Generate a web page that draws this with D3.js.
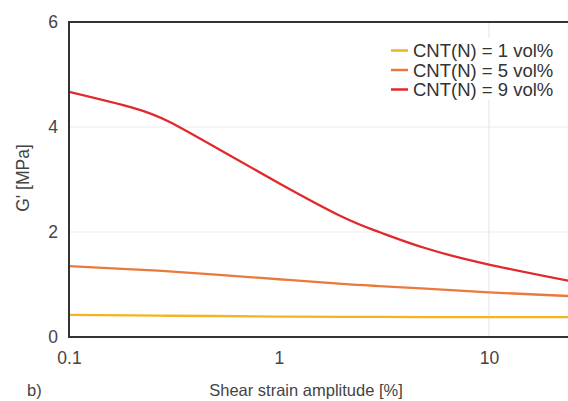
<!DOCTYPE html>
<html>
<head>
<meta charset="utf-8">
<script src="https://cdn.jsdelivr.net/npm/d3@7"></script>
<style>
    body { margin: 0; background: #fff; }
    text { font-family: "Liberation Sans", Arial, sans-serif; }
</style>
</head>
<body>
<div id="chart"></div>
<script>
// 数据
var strain = [0.1, 0.2, 0.3, 0.5, 1, 2, 3, 5, 10, 24];
var g1 = [0.42, 0.41, 0.405, 0.40, 0.39, 0.385, 0.382, 0.38, 0.38, 0.38];
var g5 = [1.35, 1.29, 1.25, 1.19, 1.10, 1.01, 0.97, 0.92, 0.85, 0.78];
var g9 = [4.67, 4.37, 4.10, 3.61, 2.93, 2.29, 2.00, 1.69, 1.38, 1.07];
var seriesNames = ['CNT(N) = 1 vol%', 'CNT(N) = 5 vol%', 'CNT(N) = 9 vol%'];
var seriesColor = ['#f4b323', '#ea7a3b', '#e1282b'];
var xTicks = [0.1, 1, 10];
var yTicks = [0, 2, 4, 6];

var width = 568,
    height = 401;
// 绘图区边界 (window.top 是只读的，所以不用 top 这个名字)
var plotL = 69, plotT = 22, plotR = 568, plotB = 337;

var svg = d3.select('#chart').append('svg')
    .attr('width', width)
    .attr('height', height);

var x = d3.scaleLog().domain([0.1, 23.8]).range([plotL, plotR]);
var y = d3.scaleLinear().domain([0, 6]).range([plotB, plotT]);

// 网格线
svg.append('g').selectAll('line')
    .data([2, 4])
    .enter().append('line')
    .attr('x1', plotL).attr('x2', plotR)
    .attr('y1', function(d) { return y(d); })
    .attr('y2', function(d) { return y(d); })
    .style('stroke', '#ebebeb');
svg.append('g').selectAll('line')
    .data([10])
    .enter().append('line')
    .attr('x1', function(d) { return x(d); })
    .attr('x2', function(d) { return x(d); })
    .attr('y1', plotT).attr('y2', plotB)
    .style('stroke', '#e4e4e4');

// 曲线
var allSeries = [g1, g5, g9];
var line = d3.line()
    .x(function(d) { return x(d[0]); })
    .y(function(d) { return y(d[1]); })
    .curve(d3.curveNatural);
svg.append('defs').append('clipPath').attr('id', 'clip')
    .append('rect').attr('x', plotL).attr('y', plotT).attr('width', plotR - plotL).attr('height', plotB - plotT);
svg.append('g').attr('clip-path', 'url(#clip)')
    .selectAll('path')
    .data(allSeries)
    .enter().append('path')
    .attr('d', function(s) {
        return line(strain.map(function(v, i) { return [v, s[i]]; }));
    })
    .style('fill', 'none')
    .style('stroke', function(d, i) { return seriesColor[i]; })
    .style('stroke-width', 2.3);

// 坐标轴
var xAxis = d3.axisBottom(x).tickValues(xTicks).tickFormat(d3.format('')).tickSize(0).tickPadding(10);
var yAxis = d3.axisLeft(y).tickValues(yTicks).tickFormat(d3.format('d')).tickSize(0).tickPadding(11);
var gx = svg.append('g').attr('transform', 'translate(0,' + plotB + ')').call(xAxis);
var gy = svg.append('g').attr('transform', 'translate(' + plotL + ',0)').call(yAxis);
gx.select('.domain').remove();
gy.select('.domain').remove();
gx.selectAll('text').style('font-size', '17.5px').style('fill', '#444').attr('dy', '0.95em');
gy.selectAll('text').style('font-size', '17.5px').style('fill', '#444');

// 框线
svg.append('path')
    .attr('d', 'M' + plotR + ',' + plotT + 'H' + plotL + 'V' + plotB + 'H' + plotR)
    .style('fill', 'none')
    .style('stroke', '#333')
    .style('stroke-width', 2);

// 图例
var legend = svg.append('g').attr('transform', 'translate(386,38)');
legend.append('rect').attr('x', 0).attr('y', 0).attr('width', 180).attr('height', 62).style('fill', '#fff');
var items = legend.selectAll('g.item')
    .data(seriesNames)
    .enter().append('g')
    .attr('transform', function(d, i) { return 'translate(0,' + (12.5 + i * 19.5) + ')'; });
items.append('line')
    .attr('x1', 5).attr('x2', 22).attr('y1', 0).attr('y2', 0)
    .style('stroke', function(d, i) { return seriesColor[i]; })
    .style('stroke-width', 2.5);
items.append('text')
    .attr('x', 27).attr('dy', '0.36em')
    .text(function(d) { return d; })
    .style('font-size', '18.5px')
    .style('fill', '#333');

// 轴标题
svg.append('text')
    .attr('transform', 'translate(29,178) rotate(-90)')
    .attr('text-anchor', 'middle')
    .style('font-size', '17.5px')
    .style('fill', '#444')
    .text("G' [MPa]");
svg.append('text')
    .attr('x', 306).attr('y', 396)
    .attr('text-anchor', 'middle')
    .style('font-size', '16.5px')
    .style('fill', '#444')
    .text('Shear strain amplitude [%]');
svg.append('text')
    .attr('x', 27).attr('y', 396)
    .style('font-size', '16.5px')
    .style('fill', '#444')
    .text('b)');
</script>
</body>
</html>
